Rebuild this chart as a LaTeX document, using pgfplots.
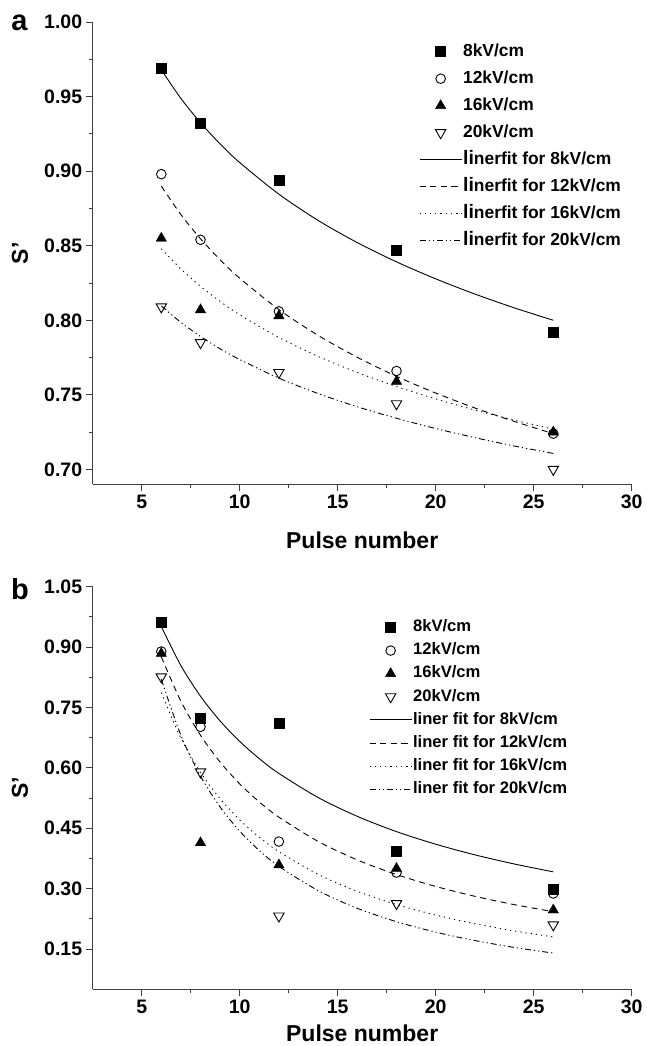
\documentclass[border=0pt]{standalone}
\usepackage{fontspec}
\setmainfont{Liberation Sans}
\usepackage{pgfplots}
\pgfplotsset{compat=1.18}

\pgfplotsset{
  panel/.style={
    scale only axis, width=539pt,
    xmin=2.5, xmax=30,
    axis lines*=left,
    axis line style={line width=1pt, color=black!75},
    tick style={line width=0.9pt, color=black!75},
    tick align=outside,
    major tick length=7pt, minor tick length=4pt,
    xtick={5,10,...,30}, minor x tick num=1, minor y tick num=1,
    /pgf/number format/assume math mode=true,
    tick label style={font=\fontsize{19.5}{19.5}\selectfont\bfseries},
    y tick label style={/pgf/number format/fixed, /pgf/number format/fixed zerofill, /pgf/number format/precision=2},
    xlabel={Pulse number}, ylabel={S'},
    every axis x label/.style={at={(axis description cs:0.5,0)}, anchor=center, yshift=-55.7pt, font=\fontsize{23}{23}\selectfont\bfseries},
    every axis y label/.style={at={(axis description cs:-0.1349,0.5)}, anchor=center, rotate=90, font=\fontsize{23}{23}\selectfont\bfseries},
    legend cell align=left,
    legend image code/.code={\draw[mark repeat=2,mark phase=2] plot coordinates {(0pt,0pt) (21pt,0pt) (42pt,0pt)};},
  },
  s8/.style={only marks, mark=square*, mark size=5pt, black, mark options={solid}},
  s12/.style={only marks, mark=o, mark size=4.8pt, black, line width=0.9pt, mark options={solid}},
  s16/.style={only marks, mark=triangle*, mark size=6pt, black, mark options={solid}},
  s20/.style={only marks, mark=triangle, mark size=6pt, black, line width=0.9pt, mark options={solid, rotate=180}},
  f8/.style={no marks, black, line width=0.9pt, solid},
  f12/.style={no marks, black, line width=0.9pt, dash pattern=on 6pt off 4.5pt},
  f16/.style={no marks, black, line width=0.9pt, dash pattern=on 1.2pt off 4pt},
  f20/.style={no marks, black, line width=0.9pt, dash pattern=on 6pt off 3pt on 1.2pt off 3pt on 1.2pt off 3pt},
}

\begin{document}
\begin{tikzpicture}
\useasboundingbox (0,0) rectangle (647pt,-1046pt);

% panel a
\begin{axis}[panel, at={(92.7pt,-484.3pt)}, anchor=south west,
  height=462.2pt, ymin=0.69, ymax=1.00,
  ytick={0.70,0.75,0.80,0.85,0.90,0.95,1.00},
  legend style={at={(axis description cs:0.6054,0.9560)}, anchor=north west,
    draw=none, fill=none, inner sep=0pt, row sep=8.9pt,
    font=\fontsize{17.4}{17.4}\selectfont\bfseries,
    nodes={inner sep=1pt, xshift=2pt, text height=12.5pt, text depth=3.6pt}},
  ]
\addplot[s8] coordinates {(6,0.969) (8,0.932) (12,0.894) (18,0.847) (26,0.792)};
\addlegendentry{8kV/cm}
\addplot[s12] coordinates {(6,0.898) (8,0.854) (12,0.806) (18,0.766) (26,0.724)};
\addlegendentry{12kV/cm}
\addplot[s16] coordinates {(6,0.855) (8,0.807) (12,0.803) (18,0.759) (26,0.725)};
\addlegendentry{16kV/cm}
\addplot[s20] coordinates {(6,0.809) (8,0.785) (12,0.765) (18,0.744) (26,0.700)};
\addlegendentry{20kV/cm}
\addplot[f8, smooth] coordinates {(6,0.968) (7,0.9488) (8,0.9325) (9,0.9183) (10,0.9058) (12,0.8846) (14,0.8670) (16,0.8521) (18,0.8392) (20,0.8278) (22,0.8176) (24,0.8084) (26,0.8000)};
\addlegendentry{{\fontsize{19.5}{17.4}\selectfont li}nerfit for 8kV/cm}
\addplot[f12, smooth] coordinates {(6,0.890) (7,0.8709) (8,0.8547) (9,0.8406) (10,0.8282) (12,0.8072) (14,0.7899) (16,0.7752) (18,0.7624) (20,0.7512) (22,0.7412) (24,0.7322) (26,0.7240)};
\addlegendentry{{\fontsize{19.5}{17.4}\selectfont li}nerfit for 12kV/cm}
\addplot[f16, smooth] coordinates {(6,0.848) (7,0.8344) (8,0.8228) (9,0.8127) (10,0.8037) (12,0.7885) (14,0.7758) (16,0.7650) (18,0.7556) (20,0.7473) (22,0.7398) (24,0.7331) (26,0.7270)};
\addlegendentry{{\fontsize{19.5}{17.4}\selectfont li}nerfit for 16kV/cm}
\addplot[f20, smooth] coordinates {(6,0.8096) (7,0.7986) (8,0.7892) (9,0.7809) (10,0.7737) (12,0.7612) (14,0.7509) (16,0.7420) (18,0.7343) (20,0.7274) (22,0.7213) (24,0.7157) (26,0.7107)};
\addlegendentry{{\fontsize{19.5}{17.4}\selectfont li}nerfit for 20kV/cm}
\end{axis}

% panel b
\begin{axis}[panel, at={(92.7pt,-989.3pt)}, anchor=south west,
  height=402.6pt, ymin=0.05, ymax=1.05,
  ytick={0.15,0.30,0.45,0.60,0.75,0.90,1.05},
  every axis x label/.append style={yshift=11.7pt},
  legend style={at={(axis description cs:0.5126,0.921)}, anchor=north west,
    draw=none, fill=none, inner sep=0pt, row sep=5.6pt,
    font=\fontsize{16.6}{16.6}\selectfont\bfseries,
    nodes={inner sep=1pt, xshift=2pt, text height=12pt, text depth=3.5pt}},
  ]
\addplot[s8] coordinates {(6,0.963) (8,0.723) (12,0.712) (18,0.392) (26,0.298)};
\addlegendentry{8kV/cm}
\addplot[s12] coordinates {(6,0.889) (8,0.702) (12,0.417) (18,0.340) (26,0.288)};
\addlegendentry{12kV/cm}
\addplot[s16] coordinates {(6,0.884) (8,0.414) (12,0.359) (18,0.350) (26,0.247)};
\addlegendentry{16kV/cm}
\addplot[s20] coordinates {(6,0.826) (8,0.590) (12,0.232) (18,0.263) (26,0.210)};
\addlegendentry{20kV/cm}
\addplot[f8, smooth] coordinates {(6,0.951) (7,0.8540) (8,0.7780) (9,0.7166) (10,0.6658) (11,0.6229) (12,0.5862) (14,0.5264) (16,0.4796) (18,0.4417) (20,0.4104) (22,0.3840) (24,0.3614) (26,0.3417)};
\addlegendentry{liner fit for 8kV/cm}
\addplot[f12, smooth] coordinates {(6,0.876) (7,0.7655) (8,0.6811) (9,0.6144) (10,0.5603) (11,0.5154) (12,0.4776) (14,0.4174) (16,0.3713) (18,0.3350) (20,0.3055) (22,0.2810) (24,0.2604) (26,0.2428)};
\addlegendentry{liner fit for 12kV/cm}
\addplot[f16, smooth] coordinates {(6,0.787) (7,0.6740) (8,0.5892) (9,0.5234) (10,0.4708) (11,0.4277) (12,0.3919) (14,0.3356) (16,0.2934) (18,0.2606) (20,0.2344) (22,0.2130) (24,0.1951) (26,0.1800)};
\addlegendentry{liner fit for 16kV/cm}
\addplot[f20, smooth] coordinates {(6,0.820) (7,0.6809) (8,0.5796) (9,0.5029) (10,0.4429) (11,0.3948) (12,0.3554) (14,0.2952) (16,0.2512) (18,0.2180) (20,0.1920) (22,0.1711) (24,0.1541) (26,0.1399)};
\addlegendentry{liner fit for 20kV/cm}
\end{axis}

\node[font=\fontsize{29}{29}\selectfont\bfseries] at (19.5pt,-22.5pt) {a};
\node[font=\fontsize{29}{29}\selectfont\bfseries] at (20pt,-589pt) {b};
\end{tikzpicture}
\end{document}
